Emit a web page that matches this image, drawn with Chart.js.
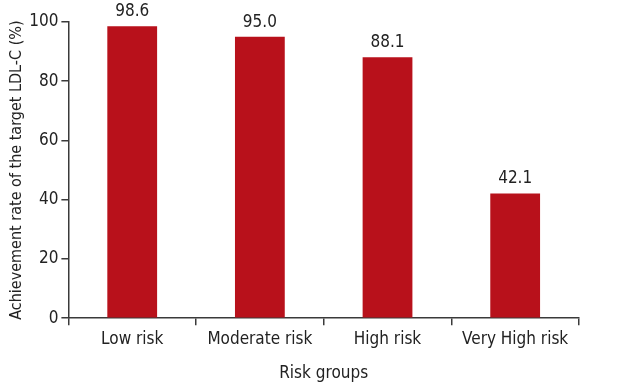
<!DOCTYPE html>
<html>
<head>
<meta charset="utf-8">
<script src="https://cdn.jsdelivr.net/npm/chart.js@4.4.0/dist/chart.umd.min.js"></script>
<style>
  html, body { margin: 0; padding: 0; background: #fff; }
  #wrap { width: 621px; height: 387px; }
</style>
</head>
<body>
<div id="wrap"><canvas id="myChart"></canvas></div>
<script>
const categories = ['Low risk', 'Moderate risk', 'High risk', 'Very High risk'];
const achievement = [98.6, 95.0, 88.1, 42.1];
const yTicks = [0, 20, 40, 60, 80, 100];

const axisColor = '#3a3a3a';
const fontFamily = '"Liberation Sans Narrow", "DejaVu Sans Condensed", sans-serif';

// draws the value above each bar
const valueLabels = {
    id: 'valueLabels',
    afterDatasetsDraw(chart) {
        const ctx = chart.ctx;
        const meta = chart.getDatasetMeta(0);
        ctx.save();
        ctx.fillStyle = '#222';
        ctx.font = '17px ' + fontFamily;
        ctx.textAlign = 'center';
        ctx.textBaseline = 'bottom';
        meta.data.forEach((bar, i) => {
            ctx.fillText(achievement[i].toFixed(1), bar.x, bar.y - 6);
        });
        ctx.restore();
    }
};

const ctx = document.getElementById('myChart').getContext('2d');
const myChart = new Chart(ctx, {
    type: 'bar',
    data: {
        labels: categories,
        datasets: [{
            label: 'Achievement rate',
            data: achievement,
            backgroundColor: '#b8111b',
            barPercentage: 0.39,
            categoryPercentage: 1.0
        }]
    },
    options: {
        responsive: true,
        maintainAspectRatio: false,
        animation: false,
        layout: { padding: { top: 22, right: 42, left: 7, bottom: 1 } },
        plugins: {
            legend: { display: false },
            tooltip: { enabled: false }
        },
        scales: {
            x: {
                grid: {
                    offset: true,
                    drawOnChartArea: false,
                    drawTicks: true,
                    tickLength: 7,
                    color: axisColor,
                    lineWidth: 1.5
                },
                border: { display: true, color: axisColor, width: 1.5 },
                ticks: {
                    color: '#222',
                    font: { family: fontFamily, size: 17 },
                    padding: 4
                },
                title: {
                    display: true,
                    text: 'Risk groups',
                    color: '#222',
                    font: { family: fontFamily, size: 17 },
                    padding: { top: 10, bottom: 2 }
                }
            },
            y: {
                min: 0,
                max: 100,
                afterBuildTicks: (axis) => {
                    axis.ticks = yTicks.map(v => ({ value: v }));
                },
                grid: {
                    drawOnChartArea: false,
                    drawTicks: true,
                    tickLength: 7,
                    color: axisColor,
                    lineWidth: 1.5
                },
                border: { display: true, color: axisColor, width: 1.5 },
                ticks: {
                    color: '#222',
                    font: { family: fontFamily, size: 17 },
                    padding: 3
                },
                title: {
                    display: true,
                    text: 'Achievement rate of the target LDL-C (%)',
                    color: '#222',
                    font: { family: fontFamily, size: 16 },
                    padding: { top: 0, bottom: 0 }
                }
            }
        }
    },
    plugins: [valueLabels]
});
</script>
</body>
</html>
